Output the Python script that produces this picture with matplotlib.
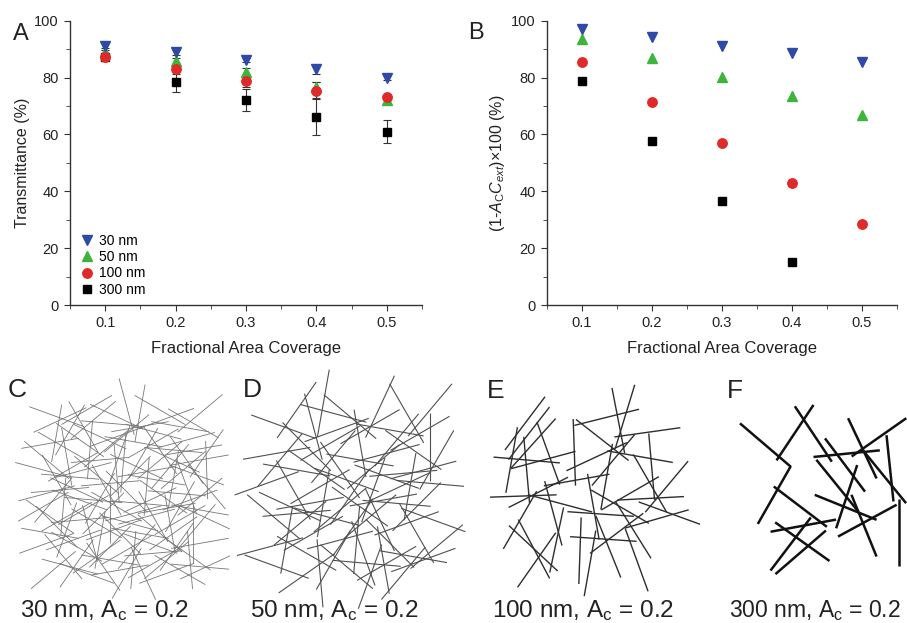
import numpy as np
import matplotlib
matplotlib.use('Agg')
import matplotlib.pyplot as plt
from matplotlib.collections import LineCollection
from matplotlib.lines import Line2D

plt.rcParams['font.family'] = ['Liberation Sans', 'DejaVu Sans']
plt.rcParams['mathtext.fontset'] = 'custom'
plt.rcParams['mathtext.rm'] = 'Liberation Sans'
plt.rcParams['mathtext.it'] = 'Liberation Sans:italic'

# ---- data for panels A and B ----
coverage = [0.1, 0.2, 0.3, 0.4, 0.5]
sizes = ['30 nm', '50 nm', '100 nm', '300 nm']

trans_30 = [91.2, 88.9, 86.2, 82.9, 80.0]
trans_50 = [89.0, 85.8, 82.1, 76.6, 72.1]
trans_100 = [87.3, 82.9, 78.8, 75.4, 73.0]
trans_300 = [87.1, 78.4, 72.1, 66.2, 61.0]
err_30 = [0.8, 0.8, 0.8, 1.5, 0.8]
err_50 = [0.8, 1.0, 1.2, 2.0, 1.0]
err_100 = [0.8, 1.5, 2.0, 3.0, 1.0]
err_300 = [1.0, 3.5, 4.0, 6.5, 4.0]

ext_30 = [97.0, 94.1, 91.2, 88.5, 85.6]
ext_50 = [93.6, 87.0, 80.3, 73.5, 66.8]
ext_100 = [85.6, 71.3, 57.1, 42.8, 28.4]
ext_300 = [78.8, 57.6, 36.5, 15.2]

# ---- wire networks (centre x, centre y, angle in deg), panel pixel units ----
wires_c = [
    (170, 170, 20), (260, 150, 150), (330, 190, 5), (420, 160, 100), (500, 175, 160),
    (580, 190, 30), (210, 210, 120), (380, 140, 75), (460, 215, 15), (600, 160, 140),
    (150, 250, 170), (240, 240, 35), (320, 265, 140), (400, 245, 10), (480, 270, 55),
    (560, 240, 165), (620, 280, 125), (200, 290, 80), (350, 230, 160), (520, 300, 25),
    (130, 330, 15), (220, 320, 150), (290, 345, 40), (370, 310, 95), (440, 335, 170),
    (510, 320, 130), (590, 345, 20), (170, 360, 60), (330, 370, 175), (470, 360, 10),
    (620, 330, 88), (140, 400, 165), (230, 390, 25), (300, 415, 120), (380, 395, 45),
    (450, 420, 155), (530, 400, 5), (600, 410, 140), (190, 440, 95), (350, 440, 30),
    (500, 445, 170), (560, 380, 70), (150, 470, 35), (240, 480, 175), (310, 460, 135),
    (390, 490, 15), (460, 470, 60), (540, 480, 150), (610, 470, 25), (200, 510, 110),
    (340, 510, 160), (480, 520, 40), (580, 520, 90), (140, 550, 160), (230, 560, 30),
    (300, 540, 100), (380, 570, 150), (450, 550, 20), (530, 560, 125), (600, 550, 170),
    (190, 590, 50), (330, 600, 10), (500, 600, 140), (570, 600, 85), (160, 630, 140),
    (260, 640, 20), (360, 630, 170), (430, 640, 65), (540, 630, 30), (620, 620, 155),
    (250, 200, 60), (430, 280, 120), (280, 420, 5), (520, 360, 100), (360, 520, 45),
    (230, 610, 125), (600, 450, 10), (180, 180, 155), (480, 150, 30), (400, 600, 95),
    (300, 300, 175), (560, 300, 55), (160, 420, 130), (440, 470, 165), (350, 170, 25),
    (520, 520, 145), (270, 520, 75), (600, 620, 5), (140, 300, 40), (460, 610, 150),
    (210, 350, 5), (390, 350, 135), (330, 460, 90), (570, 420, 160), (250, 450, 150),
    (420, 200, 170), (490, 410, 35), (150, 520, 10), (380, 640, 120), (620, 380, 50),
    (280, 180, 140), (540, 200, 10), (190, 260, 30), (360, 280, 110), (460, 250, 150),
    (250, 330, 165), (410, 320, 25), (550, 330, 140), (180, 390, 175), (320, 390, 60),
    (420, 430, 5), (540, 440, 120), (200, 470, 150), (290, 490, 30), (400, 460, 165),
    (510, 490, 80), (170, 500, 45), (330, 560, 135), (420, 520, 10), (560, 580, 35),
    (220, 540, 160), (290, 590, 145), (460, 580, 175), (350, 340, 85), (240, 420, 20),
    (480, 300, 140), (580, 270, 170), (300, 230, 25), (440, 380, 95), (380, 220, 140),
    (210, 620, 15), (500, 640, 160), (590, 500, 130), (130, 440, 150), (270, 270, 95),
    (410, 560, 130), (520, 270, 5), (170, 220, 100), (310, 620, 55), (600, 300, 170),
]
wires_d = [
    (200, 150, 125), (280, 130, 100), (360, 170, 40), (450, 140, 115), (530, 160, 60),
    (600, 150, 130), (160, 200, 20), (320, 210, 160), (480, 210, 10), (570, 220, 150),
    (140, 280, 170), (230, 260, 45), (310, 290, 130), (390, 250, 80), (470, 280, 165),
    (550, 270, 35), (620, 300, 120), (200, 330, 10), (430, 320, 140), (520, 340, 175),
    (110, 370, 160), (190, 390, 60), (270, 380, 150), (350, 360, 20), (430, 390, 110),
    (510, 380, 155), (600, 370, 5), (240, 430, 170), (390, 440, 35), (560, 440, 135),
    (130, 470, 40), (210, 490, 140), (290, 470, 15), (370, 500, 125), (450, 480, 65),
    (530, 490, 160), (610, 480, 20), (170, 540, 100), (330, 540, 165), (480, 550, 45),
    (120, 560, 165), (230, 580, 30), (310, 600, 120), (400, 580, 70), (470, 610, 150),
    (550, 590, 10), (620, 560, 140), (270, 640, 85), (420, 650, 110), (350, 620, 40),
    (250, 200, 75), (420, 200, 150), (600, 260, 90), (150, 300, 130), (330, 330, 55),
    (470, 350, 20), (280, 430, 100), (500, 430, 5), (200, 460, 175), (420, 470, 140),
    (560, 520, 60), (140, 620, 20), (380, 540, 95), (250, 520, 150), (520, 640, 130),
    (310, 160, 15), (460, 600, 80), (580, 330, 165), (360, 410, 125), (230, 640, 145),
    (390, 300, 10), (300, 250, 150), (500, 240, 130), (180, 440, 25), (460, 420, 170),
    (330, 450, 140), (540, 380, 100), (260, 330, 35), (410, 610, 5), (580, 600, 160),
]
wires_e = [
    (165, 190, 127), (177, 220, 128), (190, 250, 132), (125, 300, 100), (160, 408, 178),
    (190, 565, 43), (192, 567, 62), (397, 240, 38), (445, 182, 79), (465, 170, 107),
    (410, 172, 166), (532, 217, 172), (510, 290, 10), (542, 415, 177), (392, 462, 4),
    (400, 537, 4), (560, 477, 164), (330, 572, 92), (415, 560, 68), (370, 440, 80),
    (313, 277, 88), (260, 540, 102), (205, 397, 153), (220, 300, 165), (235, 280, 70),
    (170, 330, 85), (545, 320, 85), (540, 370, 60), (410, 350, 100), (440, 520, 143),
    (490, 510, 58), (150, 480, 120), (170, 300, 5), (430, 300, 130), (380, 290, 155),
    (480, 400, 150), (590, 380, 130), (270, 430, 15), (320, 360, 170), (450, 440, 30),
    (500, 600, 70), (250, 460, 75), (360, 610, 100), (600, 460, 20), (200, 600, 125),
]
wires_f = [
    (196, 255, 40.5), (285, 218, 123.7), (340, 222, 56.3), (223, 405, 119.7),
    (301, 440, 37.2), (440, 281, 174.3), (435, 315, 53.1), (487, 265, 64.7),
    (537, 232, 145.0), (570, 325, 84.0), (598, 517, 90.0), (437, 442, 22.0),
    (310, 497, 169.5), (272, 552, 127.2), (302, 577, 139.2), (307, 545, 35.4),
    (502, 482, 151.5), (440, 410, 108.4), (412, 377, 51.0), (492, 497, 67.9),
    (555, 352, 50.8),
]

fig = plt.figure(figsize=(9.07, 6.23), dpi=100)

colors = {'30 nm': '#2f4aa6', '50 nm': '#3db53d', '100 nm': '#e02a2a', '300 nm': 'black'}
markers = {'30 nm': 'v', '50 nm': '^', '100 nm': 'o', '300 nm': 's'}
msize = {'30 nm': 7.5, '50 nm': 7.5, '100 nm': 6.8, '300 nm': 6.2}


def style_axes(ax, ylabel):
    ax.set_xlim(0.05, 0.55)
    ax.set_ylim(0, 100)
    ax.set_xticks(coverage)
    ax.set_xticks(np.arange(0.05, 0.56, 0.1), minor=True)
    ax.set_yticks(range(0, 101, 20))
    ax.set_yticks(range(10, 100, 20), minor=True)
    ax.xaxis.set_major_formatter(plt.FormatStrFormatter('%.1f'))
    for s in ['top', 'right']:
        ax.spines[s].set_visible(False)
    for s in ['left', 'bottom']:
        ax.spines[s].set_color('#333333')
        ax.spines[s].set_linewidth(1.0)
    ax.tick_params(which='both', direction='out', colors='#333333', labelsize=10.5,
                   labelcolor='#222222')
    ax.tick_params(which='major', length=4.5)
    ax.tick_params(which='minor', length=3)
    ax.set_xlabel('Fractional Area Coverage', fontsize=12, color='#222222', labelpad=8)
    ax.set_ylabel(ylabel, fontsize=11.5, color='#222222', labelpad=3)


# ---- panel A ----
axA = fig.add_axes([0.0772, 0.5104, 0.388, 0.4564])
seriesA = {'30 nm': (trans_30, err_30), '50 nm': (trans_50, err_50),
           '100 nm': (trans_100, err_100), '300 nm': (trans_300, err_300)}
for name in ['300 nm', '50 nm', '100 nm', '30 nm']:
    vals, err = seriesA[name]
    axA.errorbar(coverage, vals, yerr=err, fmt=markers[name], color=colors[name],
                 ms=msize[name], mec=colors[name], ecolor='#333333', elinewidth=0.8,
                 capsize=3, capthick=0.8)
leg_handles = [Line2D([], [], linestyle='none', marker=markers[n], color=colors[n],
                      ms=msize[n]) for n in sizes]
axA.legend(leg_handles, sizes, loc='lower left', frameon=False,
           fontsize=10, handletextpad=0.3, labelspacing=0.16, borderaxespad=0.2,
           handlelength=1.2, bbox_to_anchor=(0.0, 0.0))
style_axes(axA, 'Transmittance (%)')

# ---- panel B ----
axB = fig.add_axes([0.6028, 0.5104, 0.3858, 0.4564])
seriesB = {'30 nm': ext_30, '50 nm': ext_50, '100 nm': ext_100, '300 nm': ext_300}
for name in ['300 nm', '100 nm', '50 nm', '30 nm']:
    vals = seriesB[name]
    axB.plot(coverage[:len(vals)], vals, linestyle='none', marker=markers[name],
             color=colors[name], ms=msize[name])
style_axes(axB, r'(1-$A_{\mathrm{C}}C_{ext}$)×100 (%)')

fig.text(13 / 907, 1 - 40 / 623, 'A', fontsize=17, color='#222222')
fig.text(468 / 907, 1 - 39 / 623, 'B', fontsize=17, color='#222222')

# ---- panels C-F: wire networks ----
panels = [
    # crop in figure px (x, y_top, w, h), wires, length, colour, width, letter, caption
    ((0, 360, 230, 263), wires_c, 175, '#767676', 0.6, 'C', '30 nm'),
    ((230, 360, 240, 263), wires_d, 205, '#505050', 0.8, 'D', '50 nm'),
    ((470, 360, 230, 263), wires_e, 200, '#2e2e2e', 1.0, 'E', '100 nm'),
    ((700, 360, 207, 263), wires_f, 200, '#111111', 1.8, 'F', '300 nm'),
]
letter_pos = {'C': (8, 397), 'D': (243, 397), 'E': (487, 398), 'F': (727, 398)}
caption_x = {'C': 20, 'D': 250, 'E': 492, 'F': 729}

for (px, py, pw, ph), wires, length, col, lw, letter, cap in panels:
    ax = fig.add_axes([px / 907, 1 - (py + ph) / 623, pw / 907, ph / 623])
    ax.set_xlim(0, pw * 3)
    ax.set_ylim(ph * 3, 0)
    ax.axis('off')
    w = np.array(wires, dtype=float)
    a = np.deg2rad(w[:, 2])
    dx = 0.5 * length * np.cos(a)
    dy = 0.5 * length * np.sin(a)
    segs = np.stack([np.column_stack([w[:, 0] - dx, w[:, 1] - dy]),
                     np.column_stack([w[:, 0] + dx, w[:, 1] + dy])], axis=1)
    ax.add_collection(LineCollection(segs, colors=col, linewidths=lw))
    lx, ly = letter_pos[letter]
    fig.text(lx / 907, 1 - ly / 623, letter, fontsize=19, color='#222222')
    fig.text(caption_x[letter] / 907, 1 - 617 / 623,
             cap + r', A$_{\mathrm{c}}$ = 0.2',
             fontsize=16.5 if letter == 'F' else 17.5, color='#222222')

fig.savefig('out.png', dpi=100)
